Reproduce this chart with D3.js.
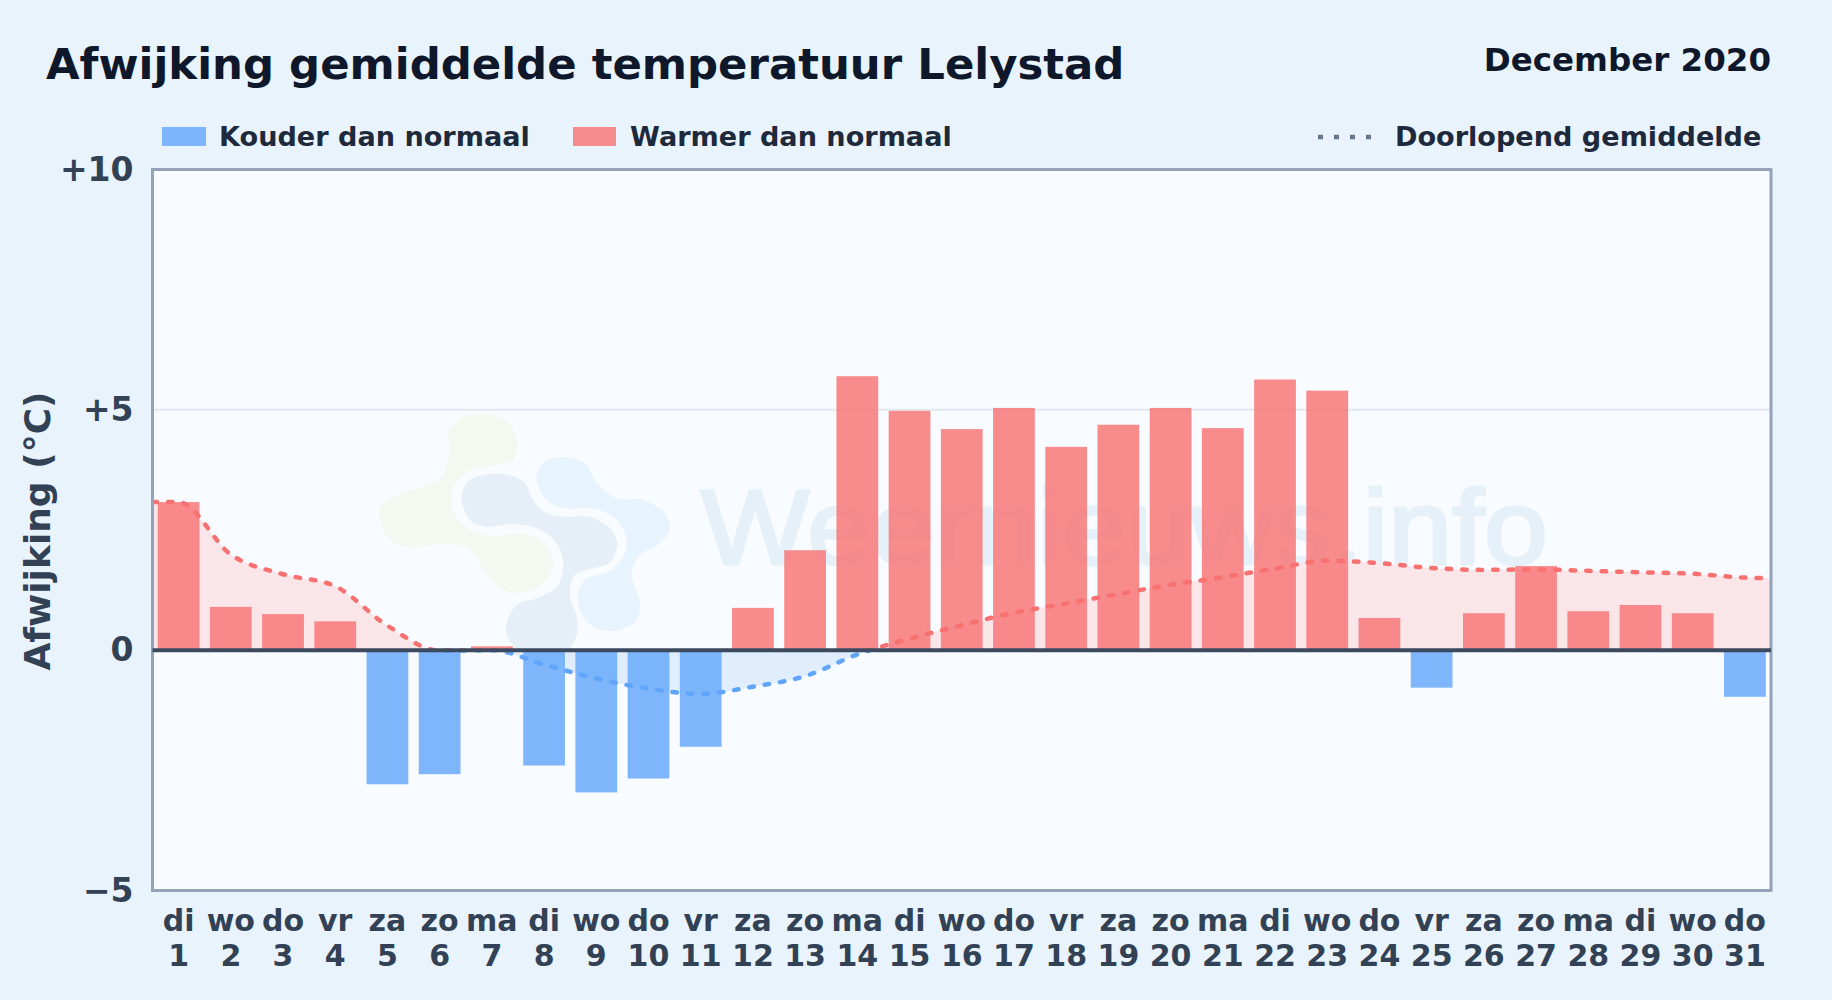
<!DOCTYPE html>
<html>
<head>
<meta charset="utf-8">
<script src="https://cdn.jsdelivr.net/npm/d3@7"></script>
<style>
  html, body { margin: 0; padding: 0; background: #e8f3fc; }
  svg { display: block; font-family: "DejaVu Sans", sans-serif; font-weight: 700; }
</style>
</head>
<body>
<div id="vis"></div>
<script>
// daily values
const days = d3.range(1, 32);
const weekdays = ["di","wo","do","vr","za","zo","ma","di","wo","do","vr","za","zo","ma","di","wo","do","vr","za","zo","ma","di","wo","do","vr","za","zo","ma","di","wo","do"];
const deviation = [3.08,0.9,0.75,0.6,-2.79,-2.58,0.08,-2.4,-2.96,-2.67,-2.01,0.88,2.08,5.7,4.98,4.6,5.04,4.23,4.69,5.04,4.62,5.63,5.4,0.67,-0.78,0.77,1.75,0.81,0.94,0.77,-0.97];
// running mean, with one extra point on each side out to the frame
const meanDays = [0.5,1,2,3,4,5,6,7,8,9,10,11,12,13,14,15,16,17,18,19,20,21,22,23,24,25,26,27,28,29,30,31,31.5];
const meanValues = [3.08,3.08,1.99,1.58,1.33,0.51,-0.01,0.0,-0.3,-0.59,-0.8,-0.91,-0.76,-0.54,-0.09,0.24,0.52,0.78,0.97,1.17,1.36,1.52,1.7,1.86,1.81,1.71,1.67,1.68,1.65,1.62,1.59,1.51,1.5];
const yTicks = [-5, 0, 5, 10];

const margin = { top: 169.5, right: 61, bottom: 109.5, left: 152.5 };
const W = 1832, H = 1000;

const svg = d3.select("#vis").append("svg").attr("width", W).attr("height", H);
svg.append("rect").attr("width", W).attr("height", H).attr("fill", "#e8f3fc");

const x = d3.scaleBand().domain(days).range([margin.left, W - margin.right]).paddingInner(0.2).paddingOuter(0.1);
const xMean = d3.scaleLinear().domain([0.5, 31.5]).range([margin.left, W - margin.right]);
const y = d3.scaleLinear().domain([-5, 10]).range([H - margin.bottom, margin.top]);

// plot background
svg.append("rect")
  .attr("x", margin.left).attr("y", margin.top)
  .attr("width", W - margin.left - margin.right)
  .attr("height", H - margin.top - margin.bottom)
  .attr("fill", "#f8fbff");

// watermark (outlines in px of the logo box)
const logoLine = d3.line().curve(d3.curveCatmullRomClosed.alpha(0.5));
const logoGreen = [[265,95],[300,55],[370,42],[440,65],[473,130],[458,180],[400,197],[330,210],[280,260],[278,330],[320,385],[390,408],[470,400],[540,420],[580,490],[550,550],[490,578],[430,570],[385,530],[330,450],[260,430],[150,442],[90,420],[60,360],[65,320],[110,285],[180,262],[240,235],[265,180],[270,130]];
const logoNavy = [[305,290],[330,240],[420,222],[490,245],[520,300],[560,340],[620,350],[690,350],[750,385],[772,435],[745,490],[680,510],[640,530],[630,590],[650,650],[652,700],[620,755],[545,775],[480,755],[442,710],[440,670],[470,615],[530,595],[590,560],[610,500],[590,430],[530,385],[460,372],[380,380],[330,360]];
const logoBlue = [[530,225],[560,180],[620,172],[680,195],[710,250],[770,295],[850,300],[915,340],[930,385],[900,430],[840,465],[815,520],[840,610],[830,660],[770,692],[700,680],[660,630],[655,580],[680,535],[745,515],[790,470],[800,420],[770,360],[700,325],[620,325],[560,300]];
const logo = svg.append("g").attr("transform", "translate(360,400) scale(0.3333)");
logo.append("path").attr("d", logoLine(logoGreen)).attr("fill", "#f3f9f1");
logo.append("path").attr("d", logoLine(logoNavy)).attr("fill", "#e6eff7");
logo.append("path").attr("d", logoLine(logoBlue)).attr("fill", "#e7f4fd");
svg.append("text")
  .attr("x", 701).attr("y", 564)
  .attr("textLength", 847).attr("lengthAdjust", "spacingAndGlyphs")
  .style("font-family", "'Liberation Sans'").style("font-weight", 400)
  .attr("font-size", 105).attr("fill", "#e6f0f8")
  .attr("stroke", "#e6f0f8").attr("stroke-width", 3)
  .text("Weernieuws.info");

// grid
svg.append("line")
  .attr("x1", margin.left).attr("x2", W - margin.right)
  .attr("y1", y(5)).attr("y2", y(5))
  .attr("stroke", "#e2e8f0").attr("stroke-width", 2);

// clip running mean into the part above and below zero
const defs = svg.append("defs");
defs.append("clipPath").attr("id", "above").append("rect")
  .attr("x", margin.left).attr("y", margin.top)
  .attr("width", W - margin.left - margin.right).attr("height", y(0) - margin.top);
defs.append("clipPath").attr("id", "below").append("rect")
  .attr("x", margin.left).attr("y", y(0))
  .attr("width", W - margin.left - margin.right).attr("height", y(-5) - y(0));

const area = d3.area()
  .x((d, i) => xMean(meanDays[i]))
  .y0(y(0))
  .y1((d) => y(d))
  .curve(d3.curveMonotoneX);
const line = d3.line()
  .x((d, i) => xMean(meanDays[i]))
  .y((d) => y(d))
  .curve(d3.curveMonotoneX);

svg.append("path").attr("d", area(meanValues)).attr("clip-path", "url(#above)").attr("fill", "#fae6e9");
svg.append("path").attr("d", area(meanValues)).attr("clip-path", "url(#below)").attr("fill", "#dfedfd");

// bars
svg.append("g")
  .selectAll("rect")
  .data(deviation)
  .join("rect")
  .attr("x", (d, i) => x(days[i]))
  .attr("width", x.bandwidth())
  .attr("y", (d) => y(Math.max(d, 0)))
  .attr("height", (d) => Math.abs(y(d) - y(0)))
  .attr("fill", (d) => (d >= 0 ? "#f87171" : "#60a5fa"))
  .attr("fill-opacity", 0.8);

// running mean line
[["above", "#f87171"], ["below", "#60a5fa"]].forEach(([id, color]) => {
  svg.append("path")
    .attr("d", line(meanValues))
    .attr("clip-path", `url(#${id})`)
    .attr("fill", "none")
    .attr("stroke", color)
    .attr("stroke-width", 4.5)
    .attr("stroke-linecap", "round")
    .attr("stroke-dasharray", "4.5 11");
});

// frame + zero line
svg.append("rect")
  .attr("x", margin.left).attr("y", margin.top)
  .attr("width", W - margin.left - margin.right)
  .attr("height", H - margin.top - margin.bottom)
  .attr("fill", "none").attr("stroke", "#94a3b8").attr("stroke-width", 3);
svg.append("line")
  .attr("x1", margin.left).attr("x2", W - margin.right)
  .attr("y1", y(0)).attr("y2", y(0))
  .attr("stroke", "#3b4a5f").attr("stroke-width", 4);

// axes
const yAxis = svg.append("g")
  .attr("transform", `translate(${margin.left},0)`)
  .call(d3.axisLeft(y).tickValues(yTicks).tickSize(0).tickPadding(19)
    .tickFormat((d) => (d > 0 ? "+" + d : d < 0 ? "\u2212" + Math.abs(d) : "0")));
yAxis.select(".domain").remove();
yAxis.selectAll("text")
  .attr("fill", "#334155").attr("font-size", 33)
  .style("font-family", "'DejaVu Sans'").style("font-weight", 700);

const xAxis = svg.append("g")
  .attr("transform", `translate(0,${H - margin.bottom})`)
  .call(d3.axisBottom(x).tickSize(0).tickFormat(""));
xAxis.select(".domain").remove();
xAxis.selectAll(".tick text").remove();
xAxis.selectAll(".tick").each(function (d, i) {
  const t = d3.select(this).append("text")
    .attr("text-anchor", "middle").attr("fill", "#334155").attr("font-size", 30)
    .style("font-family", "'DejaVu Sans'").style("font-weight", 700);
  t.append("tspan").attr("x", 0).attr("y", 40.5).text(weekdays[i]);
  t.append("tspan").attr("x", 0).attr("y", 75).text(d);
});

svg.append("text")
  .attr("transform", "translate(50,531) rotate(-90)")
  .attr("text-anchor", "middle").attr("fill", "#334155").attr("font-size", 36)
  .text("Afwijking (\u00b0C)");

// header
svg.append("text").attr("x", 46).attr("y", 79)
  .attr("fill", "#0f172a").attr("font-size", 43.4)
  .text("Afwijking gemiddelde temperatuur Lelystad");
svg.append("text").attr("x", 1771).attr("y", 70.5).attr("text-anchor", "end")
  .attr("fill", "#0f172a").attr("font-size", 32.5)
  .text("December 2020");

// legend
const legendFont = 27.1;
svg.append("rect").attr("x", 162).attr("y", 127).attr("width", 44).attr("height", 19).attr("fill", "#60a5fa").attr("fill-opacity", 0.8);
svg.append("text").attr("x", 219).attr("y", 146).attr("fill", "#1e293b").attr("font-size", legendFont).text("Kouder dan normaal");
svg.append("rect").attr("x", 573).attr("y", 127).attr("width", 43).attr("height", 19).attr("fill", "#f87171").attr("fill-opacity", 0.8);
svg.append("text").attr("x", 630).attr("y", 146).attr("fill", "#1e293b").attr("font-size", legendFont).text("Warmer dan normaal");
svg.append("line").attr("x1", 1318).attr("x2", 1375).attr("y1", 137).attr("y2", 137)
  .attr("stroke", "#64748b").attr("stroke-width", 4.5).attr("stroke-dasharray", "5 11");
svg.append("text").attr("x", 1395).attr("y", 146).attr("fill", "#1e293b").attr("font-size", legendFont).text("Doorlopend gemiddelde");
</script>
</body>
</html>
